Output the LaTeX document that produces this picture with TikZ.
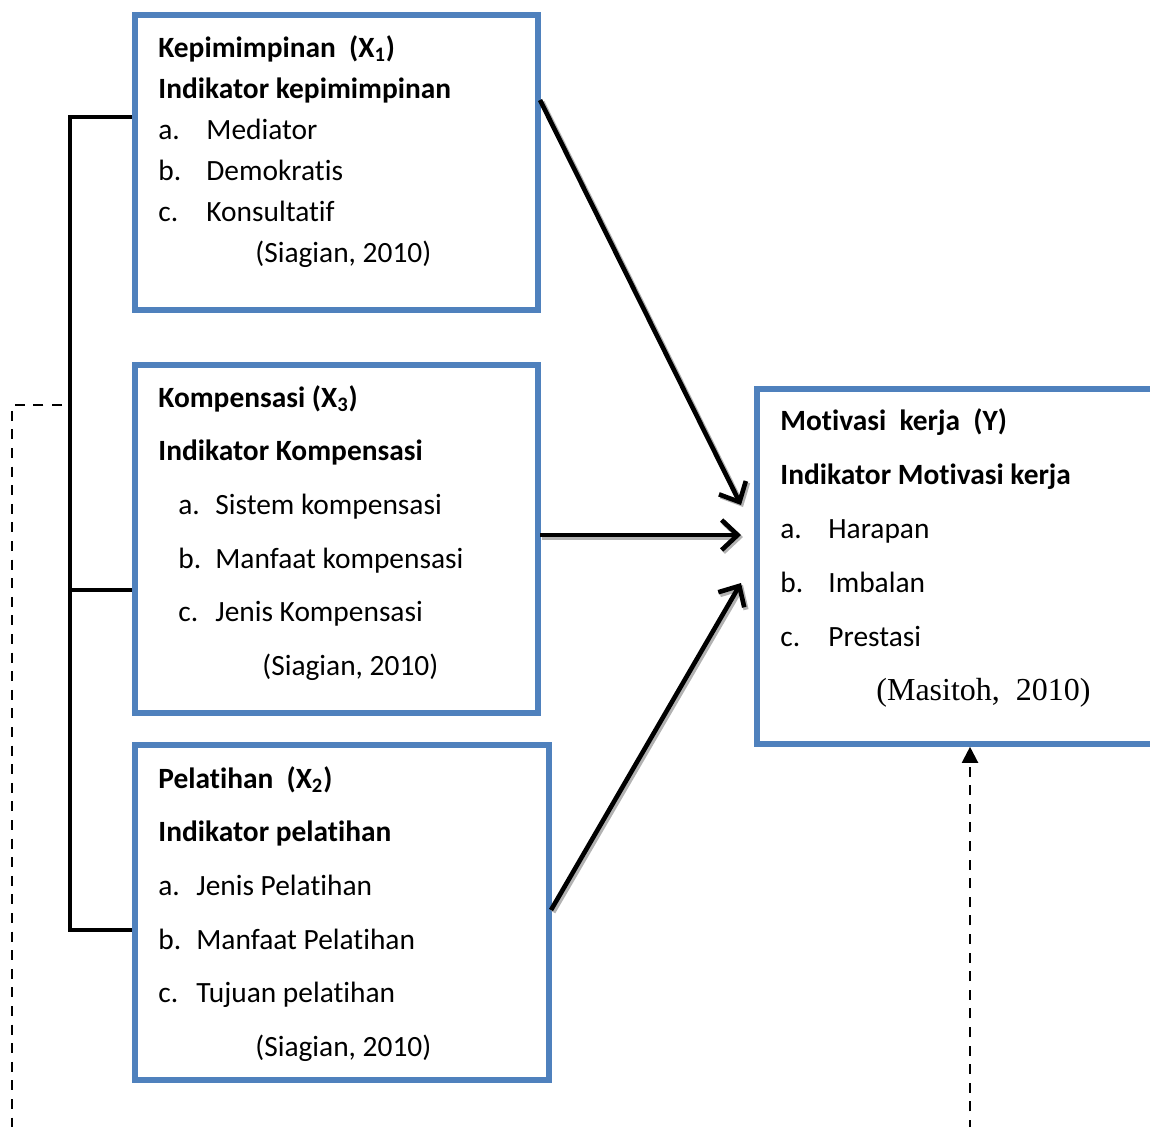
\documentclass[tikz,border=0pt]{standalone}
\usepackage{fontspec}
\setmainfont{Carlito}[Ligatures=NoCommon]
\newfontfamily\reffont{Liberation Serif}
\usepackage{tikz}
\usetikzlibrary{arrows.meta,positioning,fit}
\definecolor{boxblue}{RGB}{79,129,189}

\begin{document}
\begin{tikzpicture}[x=0.5pt,y=-0.5pt,
    every node/.style={font=\fontsize{14.7}{17}\selectfont},
    varbox/.style={draw=boxblue, line width=2.8pt, inner sep=0pt},
    txt/.style={anchor=north west, inner sep=0pt, align=left},
    arr/.style={-{Straight Barb[length=8pt,width=15pt]}, line width=2.3pt,
        preaction={draw=black!30, line width=2.6pt, transform canvas={shift={(1pt,-1pt)}}}},
    bracket/.style={line width=2.2pt},
    link/.style={line width=1.1pt, dash pattern=on 5pt off 4.3pt}
]
    \useasboundingbox (0,0) rectangle (1150,1126);
    \clip (0,0) rectangle (1150,1126);

    % variable boxes
    \node[varbox, fit={(135,15) (538,310)}] (kep) {};
    \node[varbox, fit={(135,365) (538,713)}] (kom) {};
    \node[varbox, fit={(135,745) (549,1080)}] (pel) {};
    \node[varbox, fit={(757,389) (1175,744)}] (mot) {};

    \node[txt, font=\fontsize{14.7}{20.5}\selectfont] (kepText) at (158,35)
        {\textbf{Kepimimpinan\ \ (X\textsubscript{1})}\\
         \textbf{Indikator kepimimpinan}\\
         \makebox[24pt][l]{a.}Mediator\\
         \makebox[24pt][l]{b.}Demokratis\\
         \makebox[24pt][l]{c.}Konsultatif\\
         \hspace*{48.5pt}(Siagian, 2010)};

    \node[txt, font=\fontsize{14.7}{26.8}\selectfont] (komText) at (158,385)
        {\textbf{Kompensasi (X\textsubscript{3})}\\
         \textbf{Indikator Kompensasi}\\
         \hspace*{10pt}\makebox[18.5pt][l]{a.}Sistem kompensasi\\
         \hspace*{10pt}\makebox[18.5pt][l]{b.}Manfaat kompensasi\\
         \hspace*{10pt}\makebox[18.5pt][l]{c.}Jenis Kompensasi\\
         \hspace*{52pt}(Siagian, 2010)};

    \node[txt, font=\fontsize{14.7}{26.8}\selectfont] (pelText) at (158,766)
        {\textbf{Pelatihan\ \ (X\textsubscript{2})}\\
         \textbf{Indikator pelatihan}\\
         \makebox[19pt][l]{a.}Jenis Pelatihan\\
         \makebox[19pt][l]{b.}Manfaat Pelatihan\\
         \makebox[19pt][l]{c.}Tujuan pelatihan\\
         \hspace*{48.5pt}(Siagian, 2010)};

    \node[txt, font=\fontsize{14.7}{27}\selectfont] (motText) at (780,408)
        {\textbf{Motivasi\ \ kerja\ \ (Y)}\\
         \textbf{Indikator Motivasi kerja}\\
         \makebox[24pt][l]{a.}Harapan\\
         \makebox[24pt][l]{b.}Imbalan\\
         \makebox[24pt][l]{c.}Prestasi\\
         \hspace*{48pt}{\reffont\fontsize{16}{18}\selectfont(Masitoh,\ \ 2010)}};

    % arrows to Y
    \coordinate (k1) at (540,100);
    \coordinate (k2) at (540,535);
    \coordinate (k3) at (551,910);
    \coordinate (y1) at (741,505);
    \coordinate (y2) at (741,535);
    \coordinate (y3) at (741,583);
    \draw[arr] (k1) -- (y1);
    \draw[arr] (k2) -- (y2);
    \draw[arr] (k3) -- (y3);

    % bracket joining X1, X3, X2
    \coordinate (brTop) at (70,117);
    \coordinate (brMid) at (70,590);
    \coordinate (brBot) at (70,930);
    \draw[bracket] (kep.west |- brTop) -- (brTop) -- (brBot) -- (pel.west |- brBot);
    \draw[bracket] (brMid) -- (kom.west |- brMid);

    % dashed link
    \coordinate (dStart) at (62,405);
    \coordinate (dCorner) at (12,405);
    \coordinate (dLeft) at (12,1130);
    \coordinate (dRight) at (970,1130);
    \draw[link] (dStart) -- (dCorner) -- (dLeft);
    \draw[link, -{Triangle[length=8pt,width=8pt]}] (dRight) -- (mot.south -| dRight);
\end{tikzpicture}
\end{document}
